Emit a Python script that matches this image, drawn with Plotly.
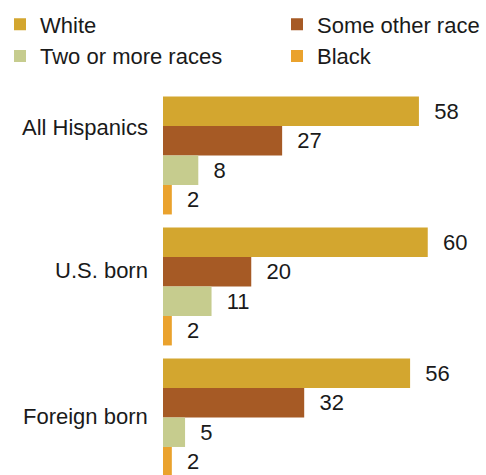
import plotly.graph_objects as go

groups = ["All Hispanics", "U.S. born", "Foreign born"]
series_names = ["White", "Some other race", "Two or more races", "Black"]
white = [58, 60, 56]
some_other = [27, 20, 32]
two_or_more = [8, 11, 5]
black = [2, 2, 2]

colors = ["#D3A62F", "#A65A25", "#C6CC8E", "#EAA22D"]
values = [white, some_other, two_or_more, black]
legend_ids = ["legend", "legend2", "legend", "legend2"]

FONT = "Liberation Sans, Arial, sans-serif"
TXT = "#1a1a1a"

fig = go.Figure()
ypos = list(range(len(groups)))
for name, vals, col, lg in zip(series_names, values, colors, legend_ids):
    fig.add_trace(go.Bar(
        y=ypos, x=vals, orientation="h", name=name, legend=lg,
        marker=dict(color=col, line=dict(width=0)),
        text=vals, texttemplate="\u00a0\u00a0%{x}", textposition="outside",
        textfont=dict(family=FONT, size=22, color=TXT),
        cliponaxis=False, constraintext="none",
    ))

# category labels (placed slightly above group centres as in the original)
label_shift = [-0.21, -0.12, -0.01]
for i, g in enumerate(groups):
    fig.add_annotation(x=0, y=i + label_shift[i], xref="x", yref="y",
                       text=g, showarrow=False, xanchor="right", yanchor="middle",
                       xshift=-13, font=dict(family=FONT, size=22, color=TXT))

legend_style = dict(orientation="v", xref="container", yref="container",
                    xanchor="left", yanchor="top", tracegroupgap=0,
                    font=dict(family=FONT, size=22, color=TXT),
                    bgcolor="rgba(0,0,0,0)", traceorder="normal")

fig.update_layout(
    width=486, height=475,
    margin=dict(l=163, r=0, t=90, b=0, autoexpand=False),
    paper_bgcolor="white", plot_bgcolor="white",
    barmode="group", bargap=0.1, bargroupgap=0,
    showlegend=True,
    legend=dict(x=0, y=1 - 3.5 / 475, **legend_style),
    legend2=dict(x=277 / 486, y=1 - 3.5 / 475, **legend_style),
    xaxis=dict(range=[0, 73.2], visible=False, fixedrange=True),
    yaxis=dict(range=[2.439, -0.5], visible=False, fixedrange=True),
)

fig.write_html("out.html", config={"displayModeBar": False},
               post_script="document.body.style.margin='0';")
